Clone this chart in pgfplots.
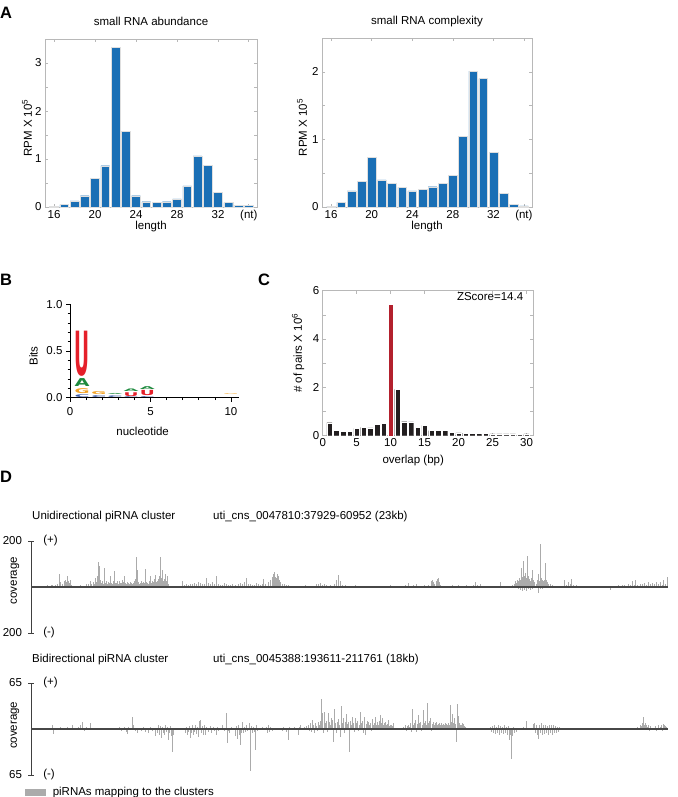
\documentclass[border=0pt]{standalone}
\usepackage{pgfplots}
\pgfplotsset{compat=1.18}
\usepackage{fontspec}
\setmainfont{Liberation Sans}
\newfontfamily\logofont{DejaVu Sans}
\usepackage{graphicx}
\definecolor{barblue}{HTML}{1A6FB5}
\definecolor{pairblack}{HTML}{231F20}
\definecolor{pairred}{HTML}{B3202D}
\definecolor{logoU}{HTML}{E5202A}
\definecolor{logoA}{HTML}{1D8A3E}
\definecolor{logoG}{HTML}{F2A122}
\definecolor{logoC}{HTML}{3C5BA8}
\definecolor{spike}{HTML}{ABABAB}
\definecolor{boxgray}{HTML}{B8B8B8}
\newcommand{\fs}{\fontsize{11.5bp}{13bp}\selectfont}
\newcommand{\panelfont}{\fontsize{16.5bp}{18bp}\selectfont\bfseries}
\newdimen\logounit
\logounit=93.4bp
\newcommand{\logoletter}[2]{\resizebox{15bp}{#1\logounit}{\logofont\bfseries #2}}
\pgfplotsset{
  /pgf/number format/assume math mode=true,
  boxaxis/.style={scale only axis, anchor=south west,
    axis line style={boxgray, line width=0.6bp},
    tick style={boxgray, line width=0.6bp}, tick align=inside,
    major tick length=3bp, minor tick length=3bp,
    xticklabel style={anchor=base, yshift=-11bp},
    clip=false},
}
\begin{document}
\begin{tikzpicture}[font=\fs]
\path[use as bounding box] (0,0) rectangle (678bp,-797bp);
% panel letters
\node[anchor=base west, inner sep=0pt, font=\panelfont] at (0bp,-18.3bp) {A};
\node[anchor=base west, inner sep=0pt, font=\panelfont] at (0bp,-285bp) {B};
\node[anchor=base west, inner sep=0pt, font=\panelfont] at (258bp,-285.5bp) {C};
\node[anchor=base west, inner sep=0pt, font=\panelfont] at (0bp,-482bp) {D};

% ---------- A left
\begin{axis}[boxaxis, at={(45bp,-207bp)}, width=212bp, height=168bp,
  xmin=15.12, xmax=35.8, ymin=0, ymax=3.5,
  xtick={16,20,24,28,32,35}, xticklabels={16,20,24,28,32,(nt)},
  ytick={0,1,2,3}, minor ytick={0.5,1.5,2.5},
  title={small RNA abundance}, title style={at={(axis description cs:0.5,1)}, anchor=base, yshift=7.5bp},
  xlabel={length}, xlabel style={at={(axis description cs:0.5,0)}, anchor=base, yshift=-22bp},
  ylabel={RPM X 10\textsuperscript{5}}, ylabel style={at={(axis description cs:-0.085,0.47)}, anchor=center}]
\addplot[ybar, bar width=0.86, bar shift=0pt, fill=barblue, draw=white!75!gray, line width=0.4bp] coordinates {
(16,0.02) (17,0.05) (18,0.13) (19,0.235) (20,0.59) (21,0.86) (22,3.33) (23,1.58) (24,0.235) (25,0.11)
(26,0.10) (27,0.11) (28,0.17) (29,0.44) (30,1.065) (31,0.87) (32,0.31) (33,0.09) (34,0.035) (35,0.03)};
\end{axis}

% ---------- A right
\begin{axis}[boxaxis, at={(322bp,-207bp)}, width=210bp, height=169bp,
  xmin=15.1, xmax=35.8, ymin=0, ymax=2.5,
  xtick={16,20,24,28,32,35}, xticklabels={16,20,24,28,32,(nt)},
  ytick={0,1,2}, minor ytick={0.5,1.5},
  title={small RNA complexity}, title style={at={(axis description cs:0.5,1)}, anchor=base, yshift=7.5bp},
  xlabel={length}, xlabel style={at={(axis description cs:0.5,0)}, anchor=base, yshift=-22bp},
  ylabel={RPM X 10\textsuperscript{5}}, ylabel style={at={(axis description cs:-0.095,0.47)}, anchor=center}]
\addplot[ybar, bar width=0.86, bar shift=0pt, fill=barblue, draw=white!75!gray, line width=0.4bp] coordinates {
(16,0.01) (17,0.07) (18,0.24) (19,0.38) (20,0.73) (21,0.40) (22,0.35) (23,0.29) (24,0.24) (25,0.26)
(26,0.30) (27,0.35) (28,0.47) (29,1.04) (30,2.01) (31,1.90) (32,0.81) (33,0.20) (34,0.04) (35,0.015)};
\end{axis}

% ---------- B logo
\begin{axis}[at={(70bp,-397.7bp)}, anchor=south west, scale only axis, width=169bp, height=93.4bp,
  xmin=0, xmax=10.5, ymin=0, ymax=1,
  axis x line=bottom, axis y line=left, axis line style={-, black, line width=0.6bp},
  tick style={black, line width=0.6bp}, tick align=outside, major tick length=4bp, minor tick length=2.5bp,
  xtick={0,5,10}, minor xtick={1,2,3,4,6,7,8,9},
  ytick={0,0.5,1}, minor ytick={0.1,0.2,0.3,0.4,0.6,0.7,0.8,0.9},
  yticklabel style={/pgf/number format/.cd, fixed, fixed zerofill, precision=1},
  xticklabel style={anchor=base, yshift=-14bp},
  xlabel={nucleotide}, xlabel style={at={(axis description cs:0.43,0)}, anchor=base, yshift=-38bp},
  ylabel={Bits}, ylabel style={at={(axis description cs:-0.216,0.446)}, anchor=center},
  clip=false]
\addplot[draw=none, mark=none, visualization depends on={value \thisrow{h} \as \hh},
  nodes near coords={\logoletter{\hh}{C}},
  every node near coord/.append style={anchor=south, inner sep=0pt, outer sep=0pt, text=logoC}]
  table[row sep=\\]{x y h\\ 0.75 0.004 0.03\\ 1.8 0.005 0.02\\ 2.8 0.006 0.018\\ 3.8 0.002 0.009\\ 4.8 0.002 0.01\\};
\addplot[draw=none, mark=none, visualization depends on={value \thisrow{h} \as \hh},
  nodes near coords={\logoletter{\hh}{G}},
  every node near coord/.append style={anchor=south, inner sep=0pt, outer sep=0pt, text=logoG}]
  table[row sep=\\]{x y h\\ 0.75 0.046 0.052\\ 1.8 0.036 0.032\\ 10.0 0.028 0.007\\};
\addplot[draw=none, mark=none, visualization depends on={value \thisrow{h} \as \hh},
  nodes near coords={\logoletter{\hh}{A}},
  every node near coord/.append style={anchor=south, inner sep=0pt, outer sep=0pt, text=logoA}]
  table[row sep=\\]{x y h\\ 0.75 0.115 0.085\\ 2.8 0.036 0.011\\ 3.8 0.066 0.027\\ 4.8 0.084 0.03\\};
\addplot[draw=none, mark=none, visualization depends on={value \thisrow{h} \as \hh},
  nodes near coords={\logoletter{\hh}{U}},
  every node near coord/.append style={anchor=south, inner sep=0pt, outer sep=0pt, text=logoU}]
  table[row sep=\\]{x y h\\ 0.75 0.225 0.475\\ 3.8 0.017 0.04\\ 4.8 0.019 0.055\\};
\end{axis}

% ---------- C ping-pong
\begin{axis}[boxaxis, at={(322.7bp,-435.7bp)}, width=210.6bp, height=145bp,
  xmin=0, xmax=31, ymin=0, ymax=6,
  xtick={0,5,10,15,20,25,30}, ytick={0,2,4,6}, minor ytick={1,3,5},
  xlabel={overlap (bp)}, xlabel style={at={(axis description cs:0.43,0)}, anchor=base, yshift=-28bp},
  ylabel={\# of pairs X 10\textsuperscript{6}}, ylabel style={at={(axis description cs:-0.117,0.57)}, anchor=center}]
\addplot[ybar, bar width=0.8, bar shift=0pt, fill=pairblack, draw=white, line width=0.3bp] coordinates {
(1,0.54) (2,0.23) (3,0.19) (4,0.19) (5,0.30) (6,0.34) (7,0.32) (8,0.47) (9,0.52) (11,1.92) (12,0.58)
(13,0.57) (14,0.34) (15,0.43) (16,0.21) (17,0.21) (18,0.21) (19,0.14) (20,0.12) (21,0.11) (22,0.10)
(23,0.11) (24,0.10) (25,0.08) (26,0.08) (27,0.08) (28,0.08) (29,0.07) (30,0.08)};
\addplot[ybar, bar width=0.8, bar shift=0pt, fill=pairred, draw=white, line width=0.3bp] coordinates {(10,5.43)};
\node[anchor=center] at (axis description cs:0.795,0.957) {ZScore=14.4};
\end{axis}

% ---------- D headers
\node[anchor=west, inner sep=0pt] at (32bp,-516.5bp) {Unidirectional piRNA cluster};
\node[anchor=west, inner sep=0pt] at (213bp,-516.5bp) {uti\_cns\_0047810:37929-60952 (23kb)};
\node[anchor=west, inner sep=0pt] at (32bp,-660bp) {Bidirectional piRNA cluster};
\node[anchor=west, inner sep=0pt] at (213bp,-660bp) {uti\_cns\_0045388:193611-211761 (18kb)};

% ---------- D track 1
\begin{axis}[at={(31bp,-633bp)}, anchor=south west, scale only axis, width=637bp, height=92bp,
  xmin=31, xmax=668, ymin=-200, ymax=200,
  axis x line=none, axis y line=left, axis line style={-, black!75, line width=0.6bp},
  ytick={-200,200}, yticklabels={200,200}, tick align=center, major tick length=5bp,
  tick style={black!75, line width=0.6bp}, yticklabel style={xshift=-3bp},
  ylabel={coverage}, ylabel style={at={(axis description cs:-0.025,0.57)}, anchor=center},
  clip=false]
\addplot[ycomb, spike, line width=0.55bp] coordinates {
(46,6) (47,8) (49,5) (51,10) (52,7) (54,6) (55,9) (57,12) (59,57) (60,20) (62,15) (64,25) (65,30) (66,22) (67,47)
(68,25) (69,18) (70,30) (71,10) (73,5) (76,4) (80,8) (84,6) (86,15) (88,12)
(90,28) (91,12) (93,20) (94,15) (95,40) (96,22) (97,50) (98,107) (99,90) (100,30) (101,18) (102,26) (103,15)
(104,83) (105,18) (106,28) (107,12) (108,22) (109,16) (110,46) (111,18) (112,14) (113,28) (114,68) (115,18)
(116,16) (117,24) (118,14) (119,26) (120,18) (121,16) (122,32) (123,22) (124,50) (125,18) (126,12) (127,22)
(128,16) (129,14) (130,20) (131,16) (132,12) (133,18) (134,28) (135,34) (136,130) (137,75) (138,22) (139,14)
(140,18) (141,28) (142,18) (143,22) (144,16) (145,78) (146,22) (147,18) (148,12) (149,26) (150,46) (151,18)
(152,28) (153,22) (154,34) (155,53) (156,22) (157,28) (158,34) (159,50) (160,132) (161,38) (162,75) (163,28)
(164,34) (165,57) (166,26) (167,46) (168,14)
(171,5) (174,3) (177,6) (182,25) (184,10)
(186,12) (188,8) (190,15) (192,12) (194,18) (196,14) (198,20) (200,16) (202,12) (204,15) (206,38) (208,18) (210,14)
(212,22) (214,12) (216,46) (218,15) (220,10) (222,8) (224,18) (226,12) (228,10) (230,8) (232,14) (235,10) (238,12)
(240,18) (242,12) (244,20) (246,38) (248,15) (250,12) (252,8) (254,10) (256,18) (258,15) (260,10) (262,14) (263,35)
(265,12) (268,20) (270,30) (272,45) (273,55) (274,67) (275,45) (276,40) (277,57) (278,50) (279,30) (280,20) (282,12)
(284,15) (286,10) (288,8) (290,6) (292,5) (296,4) (300,3) (305,10) (310,6) (316,14) (318,12) (320,18) (322,10)
(324,12) (326,8) (330,10) (334,12) (336,30) (338,53) (340,25) (342,10) (345,8) (350,5) (355,8) (360,4) (365,6)
(370,5) (375,3) (380,6) (385,5) (390,8) (395,4) (400,6) (405,10) (408,18) (410,6) (413,8) (416,12) (420,5) (424,8)
(428,10) (431,25) (432,30) (433,20) (434,15) (436,28) (437,35) (438,39) (439,20) (440,10) (445,4) (450,5) (452,8)
(455,6) (458,10) (460,5) (463,6) (466,8) (470,5) (473,10) (475,20) (477,8) (480,15) (483,6) (486,5) (490,4) (494,6)
(498,5) (500,22) (504,5) (508,6) (512,10) (514,15) (515,25) (516,18) (517,30) (518,25) (519,40) (520,30) (521,83)
(522,45) (523,112) (524,50) (525,61) (526,40) (527,133) (528,46) (529,35) (530,25) (531,40) (532,72) (533,30)
(534,20) (536,15) (537,30) (538,57) (539,25) (540,187) (541,40) (542,32) (543,25) (544,30) (545,104) (546,30)
(547,20) (548,15) (550,12) (552,8) (555,5) (560,6) (564,32) (566,10) (568,20) (570,12) (571,36) (573,10) (576,8)
(580,5) (584,6) (588,4) (592,5) (605,4) (608,5) (610,3) (614,6) (618,8) (620,5) (622,10) (624,8) (626,6) (628,12)
(630,10) (632,24) (634,8) (635,29) (637,10) (640,15) (642,12) (644,18) (646,10) (648,20) (650,14) (652,18) (654,12)
(656,22) (658,15) (660,20) (662,10) (663,32) (665,15) (667,43)
(518.5,-8) (520.5,-15) (522.5,-19) (524.5,-12) (526.5,-18) (528.5,-10) (530.5,-14) (532.5,-8) (538.5,-26)
(540.5,-10) (542.5,-8) (544.5,-6) (610.5,-12) (612.5,-5) (340.5,-4) (250.5,-3)};
\addplot[black!72, line width=1.2bp] coordinates {(31,0) (668,0)};
\node[anchor=west, inner sep=0pt] at (axis description cs:0.019,1) {(+)};
\node[anchor=west, inner sep=0pt] at (axis description cs:0.019,0) {(-)};
\end{axis}

% ---------- D track 2
\begin{axis}[at={(31bp,-775bp)}, anchor=south west, scale only axis, width=637bp, height=92bp,
  xmin=31, xmax=668, ymin=-65, ymax=65,
  axis x line=none, axis y line=left, axis line style={-, black!75, line width=0.6bp},
  ytick={-65,65}, yticklabels={65,65}, tick align=center, major tick length=5bp,
  tick style={black!75, line width=0.6bp}, yticklabel style={xshift=-3bp},
  ylabel={coverage}, ylabel style={at={(axis description cs:-0.025,0.54)}, anchor=center},
  legend style={at={(axis description cs:-0.0094,-0.185)}, anchor=west, draw=none, fill=none, inner sep=0pt},
  legend cell align=left,
  clip=false]
\addplot[ycomb, spike, line width=0.55bp,
  legend image code/.code={\fill[spike] (0bp,-3bp) rectangle (20bp,3bp); \path (25bp,0bp);}] coordinates {
(52,5) (53,-7) (55,2) (58,-2) (60,3) (63,2) (65,-2) (67,3) (69,2) (72,6) (75,-2) (78,3) (80,5) (82,10) (84,-3) (86,3)
(88,2) (90,8) (91,-2) (115,2) (117,-2) (119,3) (121,-3) (123,2) (124,3) (126,-4) (127,-7) (128,3) (130,2) (132,17)
(133,6) (135,-3) (137,-6) (139,2) (141,-3) (143,3) (145,-4) (146,2) (148,-5) (150,3) (152,-3) (154,2) (155,-10)
(157,-6) (158,5) (159,-8) (160,4) (161,-13) (162,3) (163,-5) (164,-9) (165,5) (166,-4) (167,3) (168,-16) (169,-6)
(170,4) (171,-10) (172,-32) (173,-9) (174,2) (185,-5) (186,3) (187,-8) (188,-4) (189,4) (190,-13) (191,-6) (192,5)
(193,-9) (194,-4) (195,6) (196,-7) (197,3) (198,-11) (199,12) (200,13) (201,-5) (202,4) (203,-8) (204,6) (205,-8)
(206,3) (208,-4) (210,4) (211,-5) (213,3) (214,-3) (216,-8) (217,3) (218,-3) (220,2) (222,5) (224,-3) (226,23)
(227,-20) (228,-3) (229,-6) (231,3) (233,-2) (235,-10) (236,4) (237,-14) (238,6) (239,-8) (240,-23) (241,-5) (242,10)
(243,-6) (244,3) (245,-4) (246,5) (247,-3) (248,2) (249,9) (250,-59) (251,4) (252,-6) (253,3) (254,-4) (255,-30)
(256,5) (257,-3) (258,2) (260,-2) (262,3) (264,-2) (266,3) (267,-5) (268,5) (269,-4) (270,3) (272,-3) (274,2) (276,-2)
(278,2) (280,2) (282,-3) (283,3) (285,2) (286,-4) (288,-15) (289,3) (290,2) (292,-2) (294,3) (296,2) (298,-8) (299,3)
(300,5) (302,2) (304,3) (306,4) (308,6) (309,-3) (310,8) (311,-4) (312,13) (313,5) (314,-6) (315,8) (316,4) (317,-3)
(318,10) (319,6) (320,12) (321,42) (322,22) (323,-5) (324,24) (325,8) (326,12) (327,-4) (328,22) (329,10) (330,6)
(331,15) (332,13) (333,-18) (334,28) (335,9) (336,-6) (337,10) (338,14) (339,6) (340,-11) (341,32) (342,8) (343,15)
(344,-5) (345,10) (346,21) (347,7) (348,10) (349,-33) (350,12) (351,6) (352,17) (353,9) (354,-4) (355,15) (356,8)
(357,11) (358,-3) (359,6) (360,24) (361,9) (362,12) (363,-5) (364,17) (365,-8) (366,7) (367,11) (368,10) (369,5)
(370,8) (371,-3) (372,14) (373,6) (374,9) (375,17) (376,5) (377,10) (378,6) (379,12) (380,20) (381,8) (382,15)
(383,6) (384,9) (385,10) (386,5) (387,7) (388,13) (389,4) (390,6) (391,5) (392,4) (393,9) (403,3) (405,5) (406,-3)
(407,4) (408,6) (409,3) (410,8) (411,-4) (412,28) (413,6) (414,9) (415,13) (416,-4) (417,7) (418,20) (419,8) (420,10)
(421,-3) (422,6) (423,27) (424,9) (425,11) (426,6) (427,37) (428,8) (429,12) (430,15) (431,-3) (432,7) (433,10)
(434,6) (435,8) (436,10) (437,5) (438,7) (439,9) (440,6) (441,8) (442,5) (443,7) (444,6) (445,9) (446,7) (447,6)
(448,8) (449,5) (450,34) (451,10) (452,21) (453,8) (454,16) (455,7) (456,-19) (457,36) (458,19) (459,8) (460,5)
(461,6) (462,9) (463,7) (464,4) (465,3) (475,2) (482,-2) (490,3) (491,-4) (492,4) (493,-6) (494,5) (495,-7) (496,3)
(497,-5) (498,5) (499,-8) (500,4) (501,-6) (502,3) (503,-7) (504,5) (505,-5) (506,3) (507,-9) (508,4) (509,-16)
(510,-8) (511,-42) (512,-10) (513,3) (514,-6) (515,2) (516,-4) (518,2) (520,-2) (523,3) (526,11) (528,2) (533,7)
(534,9) (535,-5) (536,6) (537,-8) (538,-14) (539,5) (540,-6) (541,8) (542,-9) (543,5) (544,-7) (545,6) (546,-5)
(547,4) (548,-9) (549,6) (550,-6) (551,5) (552,-8) (553,6) (554,-5) (555,4) (556,-6) (557,3) (558,-4) (559,3)
(560,2) (565,2) (573,2) (576,-2) (580,2) (583,2) (590,1) (637,3) (638,-2) (640,5) (641,4) (642,8) (643,17) (644,6)
(645,9) (646,5) (647,3) (648,6) (649,-3) (650,4) (652,2) (655,4) (656,-3) (658,5) (660,3) (661,5) (662,-3) (663,7)
(664,5) (665,4) (666,3)};
\addlegendentry{piRNAs mapping to the clusters}
\addplot[black!72, line width=1.2bp, forget plot] coordinates {(31,0) (668,0)};
\node[anchor=west, inner sep=0pt] at (axis description cs:0.019,1) {(+)};
\node[anchor=west, inner sep=0pt] at (axis description cs:0.019,0) {(-)};
\end{axis}
\end{tikzpicture}
\end{document}
